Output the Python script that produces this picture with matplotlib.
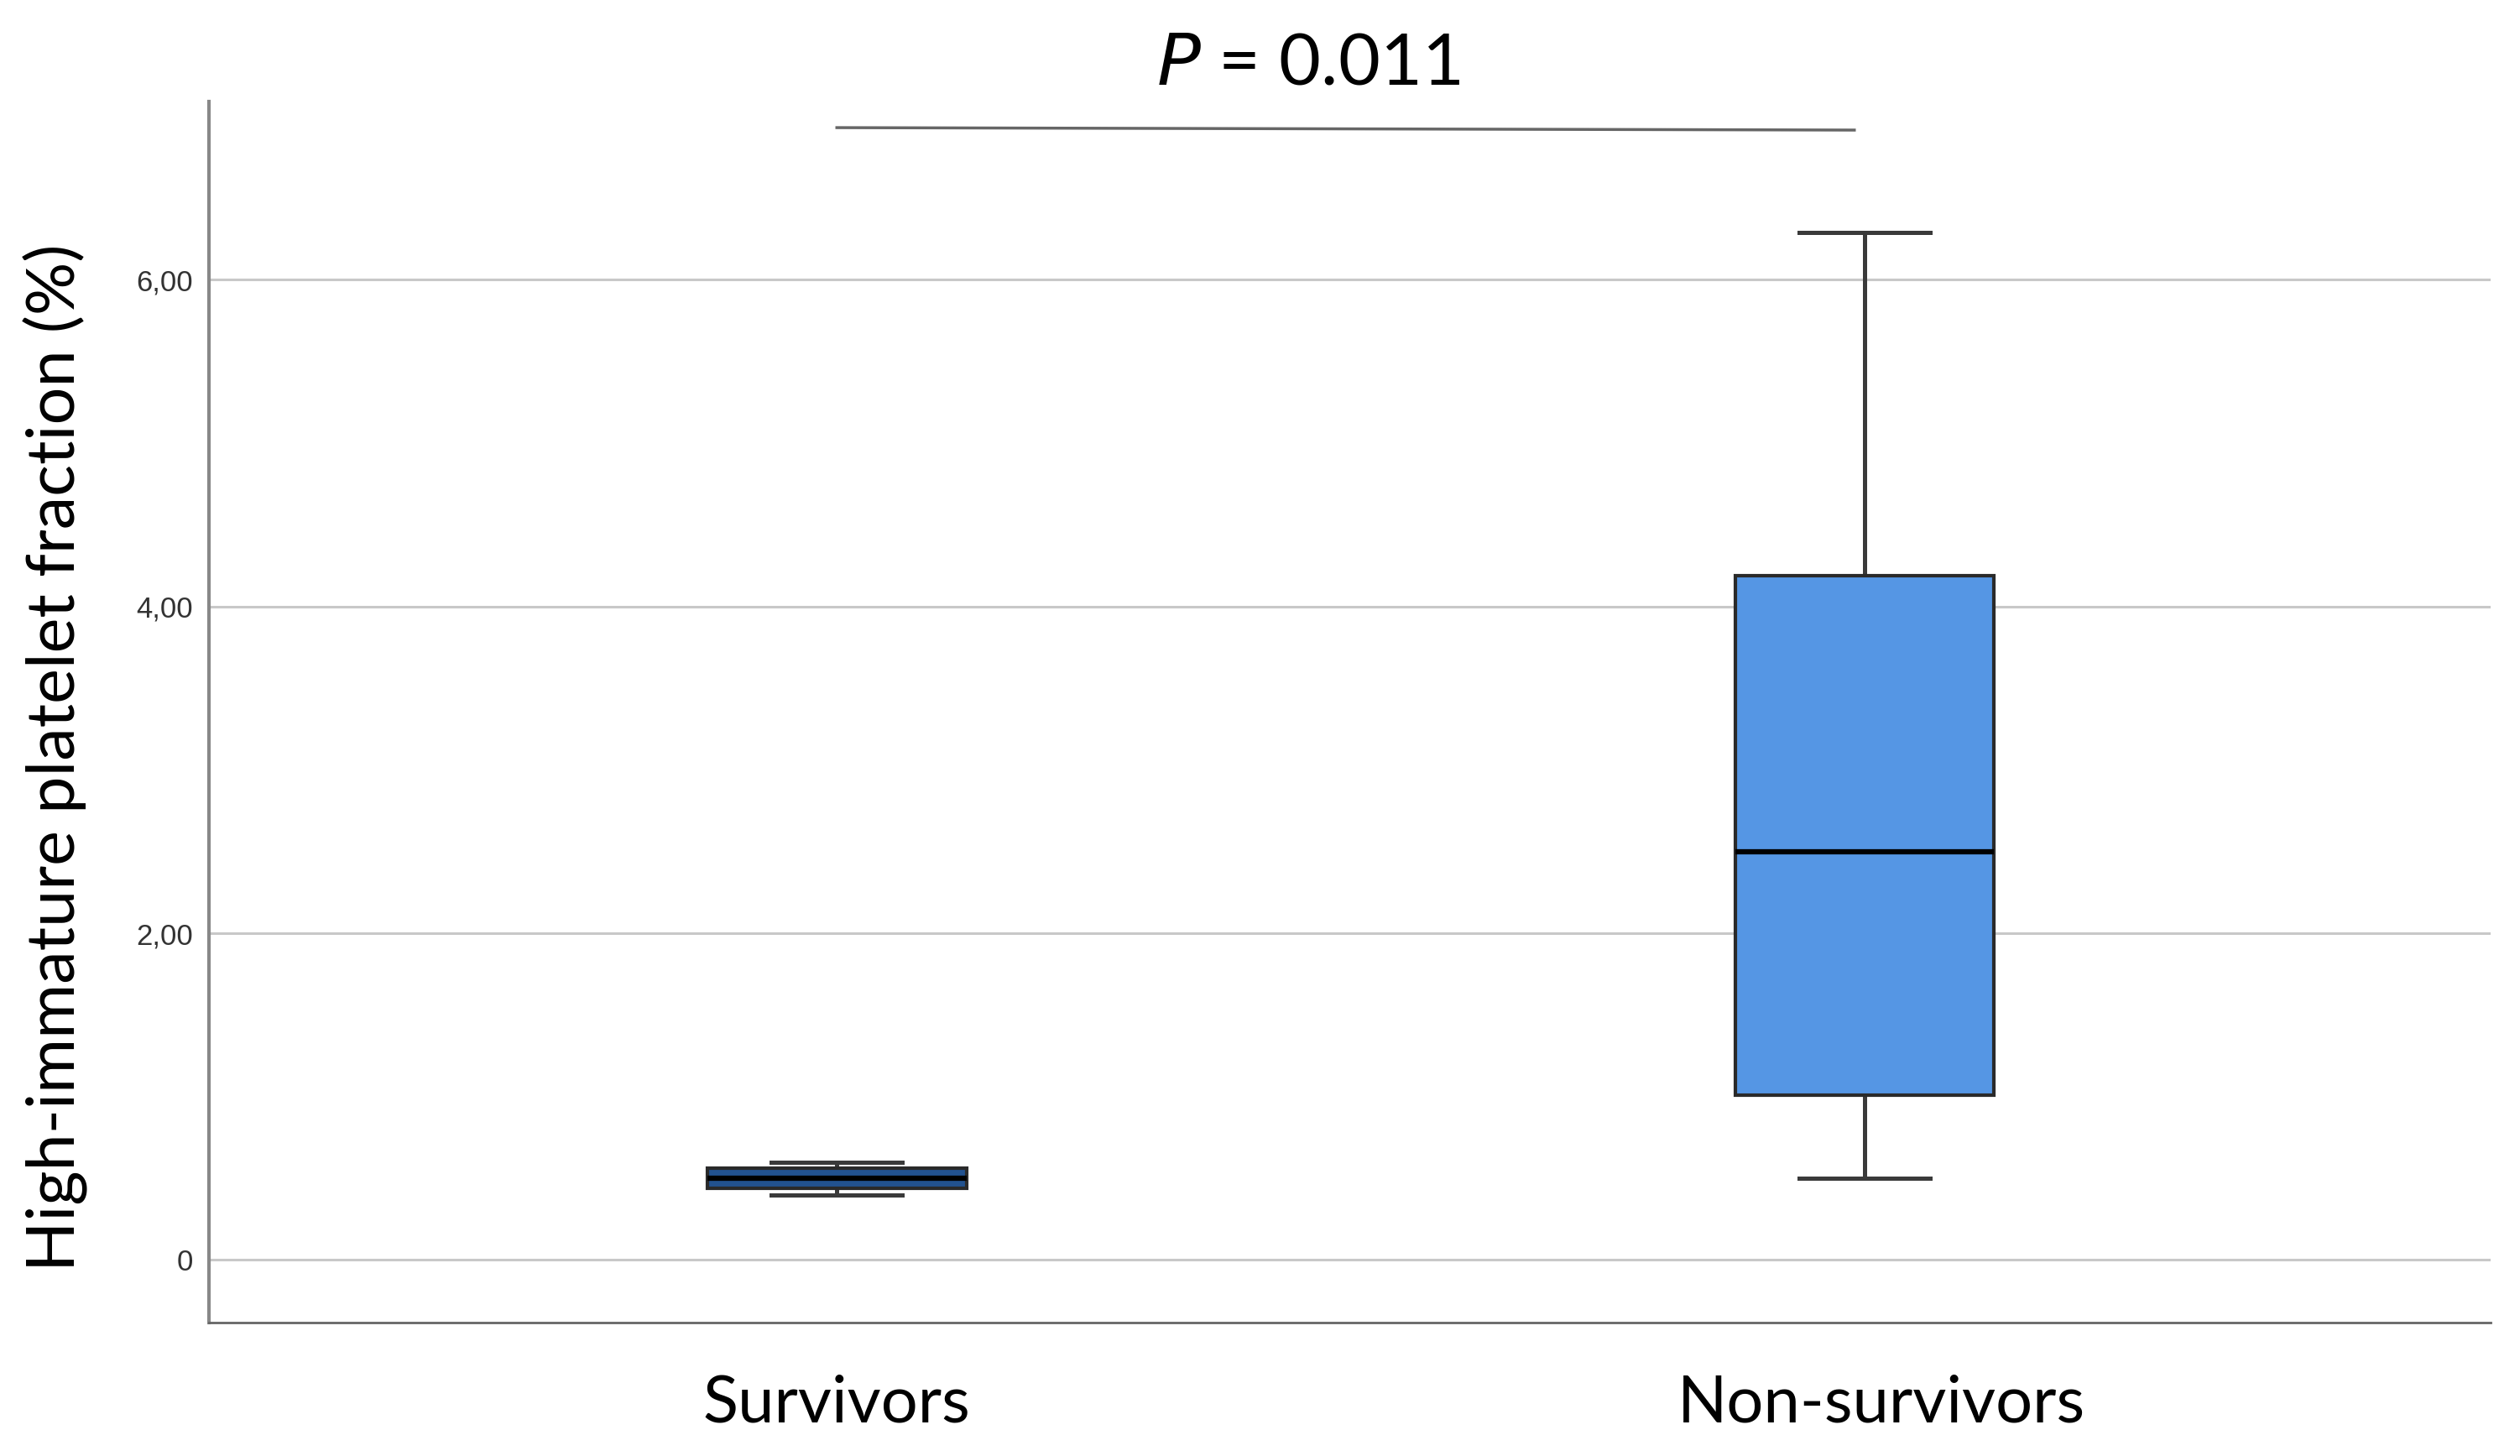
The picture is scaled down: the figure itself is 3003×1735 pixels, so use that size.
import numpy as np
import matplotlib
matplotlib.use("Agg")
import matplotlib.pyplot as plt
import matplotlib.transforms as mtransforms

# values
groups = ["Survivors", "Non-survivors"]
whislo = [0.40, 0.50]
q1 = [0.44, 1.01]
med = [0.50, 2.50]
q3 = [0.56, 4.19]
whishi = [0.60, 6.29]
yticks = [0, 2, 4, 6]
ytick_labels = ["0", "2,00", "4,00", "6,00"]
p_text = "= 0.011"

fig = plt.figure(figsize=(30.03, 17.35), dpi=100)
ax = fig.add_axes([0.0829, 0.0916, 0.9054, 0.8387])

stats = []
for i in range(len(groups)):
    stats.append(dict(label=groups[i], whislo=whislo[i], q1=q1[i], med=med[i],
                      q3=q3[i], whishi=whishi[i], fliers=[]))

positions = [1, 2]
bp = ax.bxp(stats, positions=positions, widths=0.252, capwidths=0.127,
            patch_artist=True, showfliers=False,
            boxprops=dict(edgecolor="#2a2a2a", linewidth=3),
            whiskerprops=dict(color="#3a3a3a", linewidth=3.6),
            capprops=dict(color="#3a3a3a", linewidth=3.6),
            medianprops=dict(color="black", linewidth=4.5))
bp["boxes"][0].set_facecolor("#22528f")
bp["boxes"][1].set_facecolor("#5596e4")
for b in bp["boxes"]:
    b.set_zorder(3)
for m in bp["medians"]:
    m.set_zorder(4)

ax.set_xlim(0.389, 2.609)
ax.set_ylim(-0.383, 7.09)

ax.set_yticks(yticks)
ax.set_yticklabels(ytick_labels, fontfamily="Liberation Sans", fontsize=25, color="#333333")
ax.set_xticks(positions)
ax.set_xticklabels(groups, fontfamily="Lato", fontsize=56, color="black")
ax.tick_params(axis="y", length=0, pad=14)
ax.tick_params(axis="x", length=0, pad=44)
# the second category label sits a little right of its box in the original
lbl = ax.get_xticklabels()[1]
lbl.set_transform(lbl.get_transform() + mtransforms.ScaledTranslation(0.2, 0, fig.dpi_scale_trans))

ax.yaxis.grid(True, color="#c8c8c8", linewidth=2.2)
ax.set_axisbelow(True)

for s in ["top", "right"]:
    ax.spines[s].set_visible(False)
ax.spines["left"].set_color("#888888")
ax.spines["left"].set_linewidth(3)
ax.spines["bottom"].set_color("#666666")
ax.spines["bottom"].set_linewidth(2)

ax.set_ylabel("High-immature platelet fraction (%)", fontfamily="Lato", fontsize=57)
ax.yaxis.set_label_coords(-0.053, 0.463)

# significance bar
ax.plot([1.0, 1.99], [6.93, 6.915], color="#666666", linewidth=2.5, clip_on=False)
ax.text(1.459, 7.32, r"$\it{P}$ " + p_text, ha="center", va="center",
        fontsize=62, fontfamily="Lato")

fig.savefig("out.png", dpi=100)
